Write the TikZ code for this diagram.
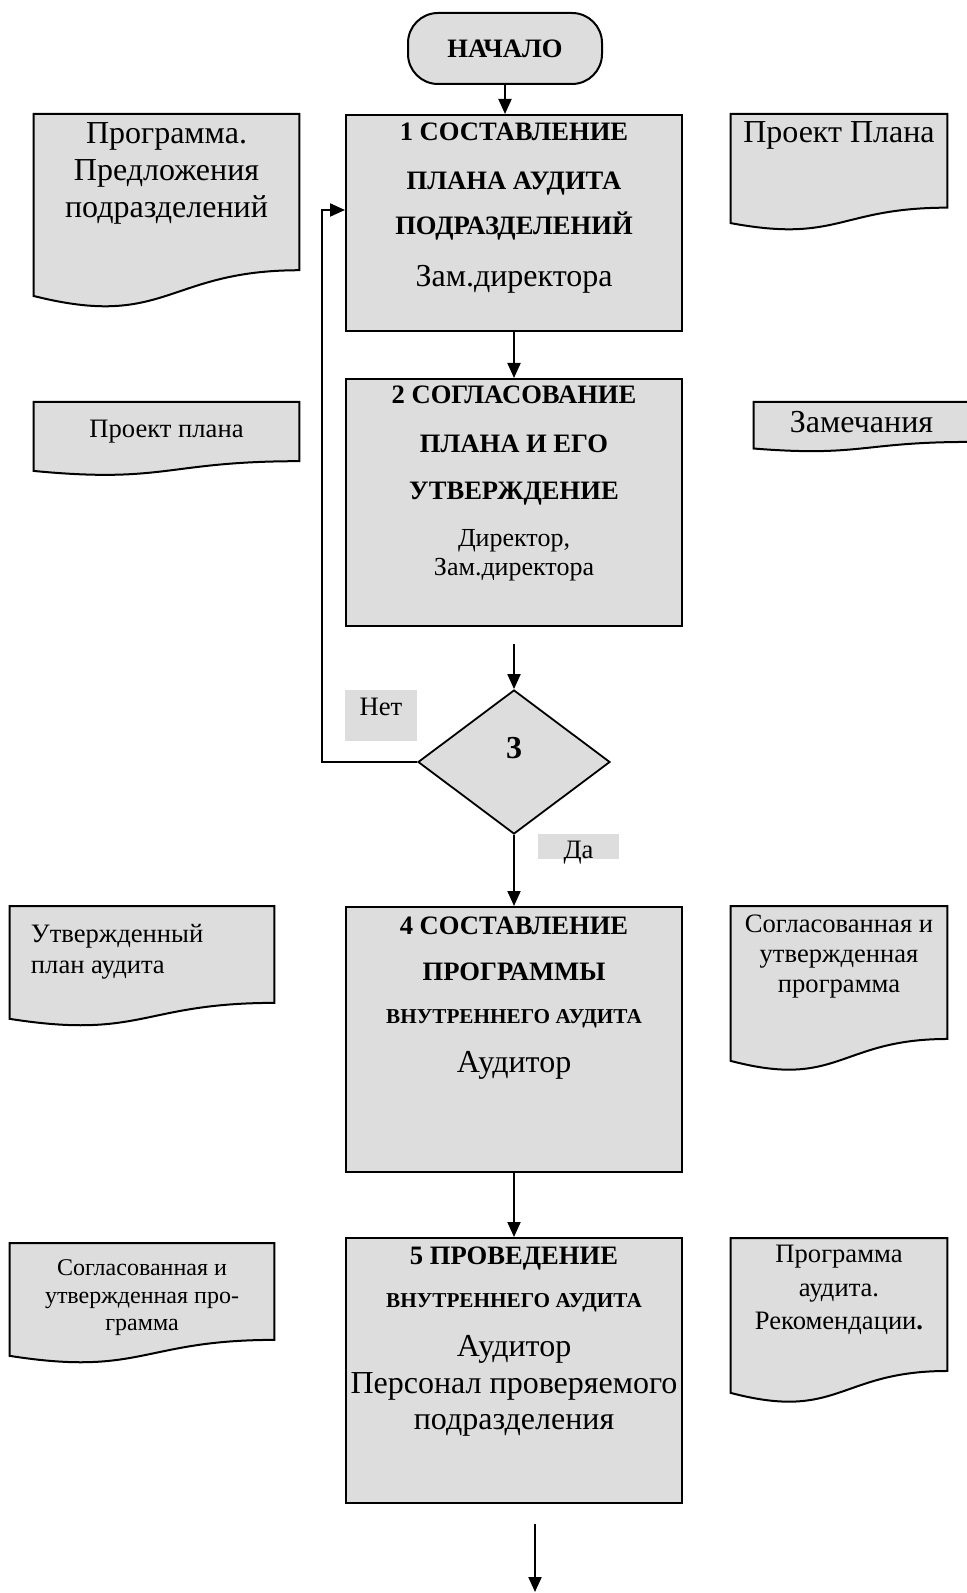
\documentclass[tikz,border=0pt]{standalone}
\usepackage{fontspec}
\setmainfont{Liberation Serif}
\usetikzlibrary{arrows.meta,shapes.geometric,calc,backgrounds}

\definecolor{boxgray}{RGB}{221,221,221}

% one line of text: size, distance from the line above, text
\newcommand\txtline[3]{{\fontsize{#1}{#2}\selectfont #3\par}}
% text block hanging from the top of a box
\newcommand\topbox[3]{\begin{minipage}[t][#2][t]{#1}\centering #3\end{minipage}}
% document shape behind a node
\newcommand\docpath[1]{%
  \filldraw[docline] (#1.north west) -- (#1.north east)
    -- ($(#1.north east)!0.802!(#1.south east)$)
    .. controls ($(#1.north)!0.802!(#1.south)$) and ($(#1.north)!1.107!(#1.south)$)
    .. ($(#1.north west)!0.934!(#1.south west)$) -- cycle;}

\tikzset{
  procbox/.style={draw, fill=boxgray, line width=1pt, inner sep=0pt, anchor=north},
  docbox/.style={inner sep=0pt, anchor=north},
  docline/.style={fill=boxgray, line width=1pt},
  labelbox/.style={fill=boxgray, inner sep=0pt, anchor=north},
  startbox/.style={draw, fill=boxgray, rounded corners=15pt, line width=1pt,
    minimum width=97pt, minimum height=35.5pt, inner sep=0pt,
    font=\bfseries\fontsize{13.3}{16}\selectfont},
  decision/.style={diamond, draw, fill=boxgray, line width=0.9pt,
    minimum width=96pt, minimum height=72pt, inner sep=0pt},
  arr/.style={-{Triangle[length=7.5pt,width=6.5pt]}, line width=1pt}
}

\begin{document}
\begin{tikzpicture}[x=0.5pt, y=-0.5pt]
  \useasboundingbox (0,0) rectangle (967,1593);

  % main column
  \node[startbox] (start) at (505,48.5) {НАЧАЛО};

  \node[procbox] (b1) at (514,114) {\topbox{168pt}{108pt}{%
    \txtline{13.3}{0}{\bfseries\rule{0pt}{13pt}1 СОСТАВЛЕНИЕ}
    \txtline{13.3}{24.5}{\bfseries ПЛАНА АУДИТА}
    \txtline{13.3}{22.5}{\bfseries ПОДРАЗДЕЛЕНИЙ}
    \txtline{16}{26}{Зам.директора}}};

  \node[procbox] (b2) at (514,378) {\topbox{168pt}{123.5pt}{%
    \txtline{13.3}{0}{\bfseries\rule{0pt}{12.5pt}2 СОГЛАСОВАНИЕ}
    \txtline{13.3}{24.5}{\bfseries ПЛАНА И ЕГО}
    \txtline{13.3}{23}{\bfseries УТВЕРЖДЕНИЕ}
    \txtline{13}{23.5}{Директор,}
    \txtline{13}{14.5}{Зам.директора}}};

  \node[decision] (d3) at (514,762)
    {\bfseries\fontsize{16}{18}\selectfont\rule[-14pt]{0pt}{14pt}3};

  \node[procbox] (b4) at (514,906) {\topbox{168pt}{132.5pt}{%
    \txtline{13.3}{0}{\bfseries\rule{0pt}{13.5pt}4 СОСТАВЛЕНИЕ}
    \txtline{13.3}{23}{\bfseries ПРОГРАММЫ}
    \txtline{10.6}{21.5}{\bfseries ВНУТРЕННЕГО АУДИТА}
    \txtline{16}{24.5}{Аудитор}}};

  \node[procbox] (b5) at (514,1237) {\topbox{168pt}{132.5pt}{%
    \txtline{13.3}{0}{\bfseries\rule{0pt}{13pt}5 ПРОВЕДЕНИЕ}
    \txtline{10.6}{21.5}{\bfseries ВНУТРЕННЕГО АУДИТА}
    \txtline{16}{24.5}{Аудитор}
    \txtline{16}{18.5}{Персонал проверяемого}
    \txtline{16}{18}{подразделения}}};

  % labels of the decision
  \node[labelbox] (no) at (381,690) {\topbox{36pt}{25.5pt}{%
    \txtline{13.3}{0}{\rule{0pt}{12.5pt}Нет}}};
  \node[labelbox] (yes) at (578.5,834) {\topbox{40.5pt}{12.5pt}{%
    \txtline{13.3}{0}{\rule{0pt}{12pt}Да}}};

  % documents on the left
  \node[docbox] (dl1) at (166.5,114) {\topbox{132.5pt}{97pt}{%
    \txtline{16}{0}{\rule{0pt}{14.5pt}Программа.}
    \txtline{16}{18.5}{Предложения}
    \txtline{16}{18.5}{подразделений}}};
  \node[docbox] (dl2) at (166.5,402) {\topbox{132.5pt}{36.5pt}{%
    \txtline{13.3}{0}{\rule{0pt}{17.5pt}Проект плана}}};
  \node[docbox] (dl3) at (142,906) {\topbox{132pt}{60pt}{\raggedright\leftskip=10.5pt
    \txtline{13.3}{0}{\rule{0pt}{18pt}Утвержденный}
    \txtline{13.3}{15.5}{план аудита}}};
  \node[docbox] (dl5) at (142,1243) {\topbox{132pt}{60pt}{%
    \txtline{12}{0}{\rule{0pt}{16pt}Согласованная и}
    \txtline{12}{14}{утвержденная про-}
    \txtline{12}{13.5}{грамма}}};

  % documents on the right
  \node[docbox] (dr1) at (839,114) {\topbox{108pt}{58pt}{%
    \txtline{16}{0}{\rule{0pt}{14pt}Проект Плана}}};
  \node[docbox] (dr2) at (861.5,402) {\topbox{107.5pt}{24.5pt}{%
    \txtline{16}{0}{\rule{0pt}{15pt}Замечания}}};
  \node[docbox] (dr3) at (839,906) {\topbox{108pt}{82.5pt}{%
    \txtline{13.3}{0}{\rule{0pt}{13pt}Согласованная и}
    \txtline{13.3}{15}{утвержденная}
    \txtline{13.3}{15}{программа}}};
  \node[docbox] (dr5) at (839,1238) {\topbox{108pt}{82.5pt}{%
    \txtline{13.3}{0}{\rule{0pt}{12pt}Программа}
    \txtline{13.3}{17}{аудита.}
    \txtline{13.3}{16.5}{Рекомендации\textbf{.}}}};

  \begin{scope}[on background layer]
    \foreach \d in {dl1,dl2,dl3,dl5,dr1,dr2,dr3,dr5} {\docpath{\d}}
  \end{scope}

  % connectors
  \coordinate (c2) at ($(b2.south)+(0,17)$);
  \coordinate (fb) at (322,210);
  \coordinate (e1) at ($(b5.south)+(21,20)$);
  \coordinate (e2) at (535,1592);
  \draw[arr] (start.south) -- (start.south |- b1.north);
  \draw[arr] (b1.south) -- (b2.north);
  \draw[arr] (c2) -- (d3.north);
  \draw[arr] (d3.west) -| (fb) -- (fb -| b1.west);
  \draw[arr] (d3.south) -- (b4.north);
  \draw[arr] (b4.south) -- (b5.north);
  \draw[arr] (e1) -- (e2);
\end{tikzpicture}
\end{document}
